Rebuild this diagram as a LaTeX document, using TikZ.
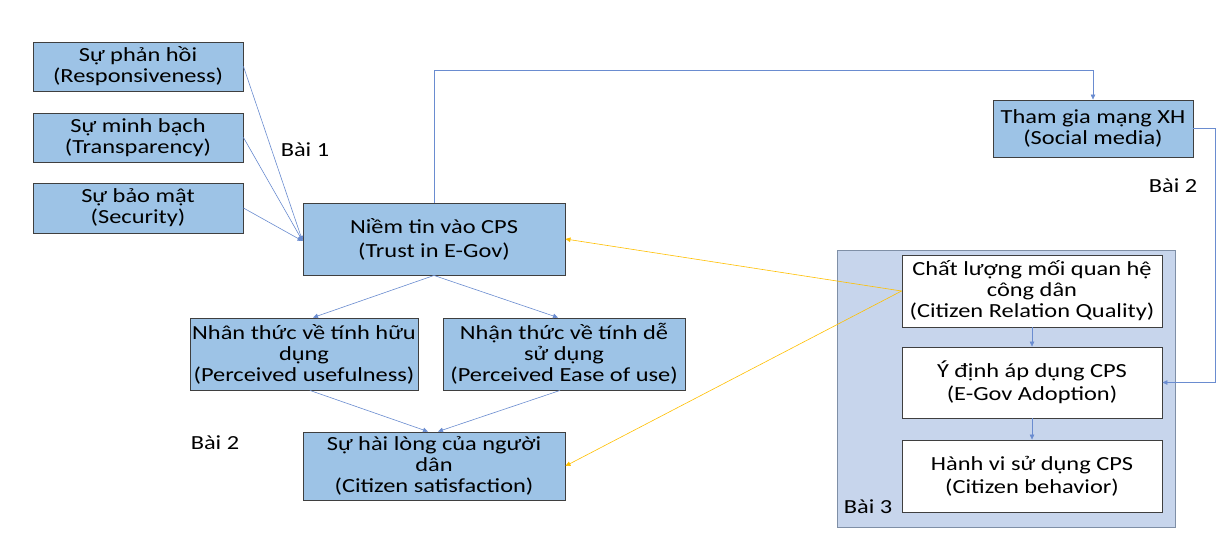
\documentclass[tikz,border=0pt]{standalone}
\usepackage{fontspec}
\setmainfont[FakeStretch=1.22]{Carlito}
\usetikzlibrary{arrows.meta}
\definecolor{boxfill}{HTML}{9DC3E6}
\definecolor{boxline}{HTML}{3F3F3F}
\definecolor{contfill}{HTML}{C7D5EC}
\definecolor{contline}{HTML}{7F8FA6}
\definecolor{conn}{HTML}{6A8CD0}
\definecolor{gold}{HTML}{FFC000}
\begin{document}
\begin{tikzpicture}[x=1pt,y=-1pt,
  every node/.style={font=\fontsize{20}{21}\selectfont, align=center, inner sep=0pt},
  bluebox/.style={draw=boxline, fill=boxfill, line width=0.9pt},
  whitebox/.style={draw=boxline, fill=white, line width=0.9pt, minimum width=260pt},
  bconn/.style={draw=conn, line width=0.6pt, -{Triangle[length=5pt,width=4.5pt]}},
  yconn/.style={draw=gold, line width=0.6pt, -{Triangle[length=5pt,width=4.5pt]}},
  lbl/.style={font=\fontsize{20}{21}\selectfont}
]
\useasboundingbox (0,0) rectangle (1225,533);
\fill[white] (0,0) rectangle (1225,533);

% container
\node[draw=contline, fill=contfill, line width=0.7pt, minimum width=338pt, minimum height=277pt] (cont) at (1006,388.5) {};

% left boxes
\node[bluebox, minimum width=210pt, minimum height=49pt] (resp) at (138,66.5) {Sự phản hồi\\(Responsiveness)};
\node[bluebox, minimum width=210pt, minimum height=49pt] (transp) at (138,137.5) {Sự minh bạch\\(Transparency)};
\node[bluebox, minimum width=210pt, minimum height=50pt] (secur) at (138,208) {Sự bảo mật\\(Security)};
\node[bluebox, minimum width=262pt, minimum height=72pt, font=\fontsize{20}{24}\selectfont] (trust) at (434,239) {Niềm tin vào CPS\\(Trust in E-Gov)};
\node[bluebox, minimum width=228pt, minimum height=72pt] (useful) at (304,354) {Nhân thức về tính hữu\\dụng\\(Perceived usefulness)};
\node[bluebox, minimum width=242pt, minimum height=72pt] (ease) at (564,354) {Nhận thức về tính dễ\\sử dụng\\(Perceived Ease of use)};
\node[bluebox, minimum width=262pt, minimum height=68pt] (satis) at (434,466) {Sự hài lòng của người\\dân\\(Citizen satisfaction)};
\node[bluebox, minimum width=200pt, minimum height=57pt] (social) at (1093,128.5) {Tham gia mạng XH\\(Social media)};

% right boxes
\node[whitebox, minimum height=72pt] (crq) at (1032,291) {Chất lượng mối quan hệ\\công dân\\(Citizen Relation Quality)};
\node[whitebox, minimum height=71pt, font=\fontsize{20}{23}\selectfont] (adopt) at (1032,382.5) {Ý định áp dụng CPS\\(E-Gov Adoption)};
\node[whitebox, minimum height=72pt, font=\fontsize{20}{23}\selectfont] (behav) at (1032,476) {Hành vi sử dụng CPS\\(Citizen behavior)};

% labels
\node[lbl] (b1) at (305,150) {Bài 1};
\node[lbl] (b2a) at (215,443) {Bài 2};
\node[lbl] (b2b) at (1173,186) {Bài 2};
\node[lbl] (b3) at (868,507) {Bài 3};

% connectors
\draw[bconn] (resp.east) -- ([yshift=-2pt]trust.west);
\draw[bconn] (transp.east) -- ([yshift=-2pt]trust.west);
\draw[bconn] (secur.east) -- ([yshift=-2pt]trust.west);
\draw[bconn] (trust.south) -- ([xshift=9pt]useful.north);
\draw[bconn] (trust.south) -- ([xshift=-6pt]ease.north);
\draw[bconn] ([xshift=6pt]useful.south) -- ([xshift=-6pt]satis.north);
\draw[bconn] ([xshift=-4pt]ease.south) -- ([xshift=4pt]satis.north);
\coordinate (topc) at (434,70);
\draw[bconn] (trust.north) -- (topc) -| (social.north);
\coordinate (rc) at (1215,128.5);
\draw[bconn] (social.east) -- (rc) |- (adopt.east);
\draw[bconn] (crq.south) -- (adopt.north);
\draw[bconn] (adopt.south) -- (behav.north);
\draw[yconn] (crq.west) -- (trust.east);
\draw[yconn] (crq.west) -- (satis.east);
\end{tikzpicture}
\end{document}
